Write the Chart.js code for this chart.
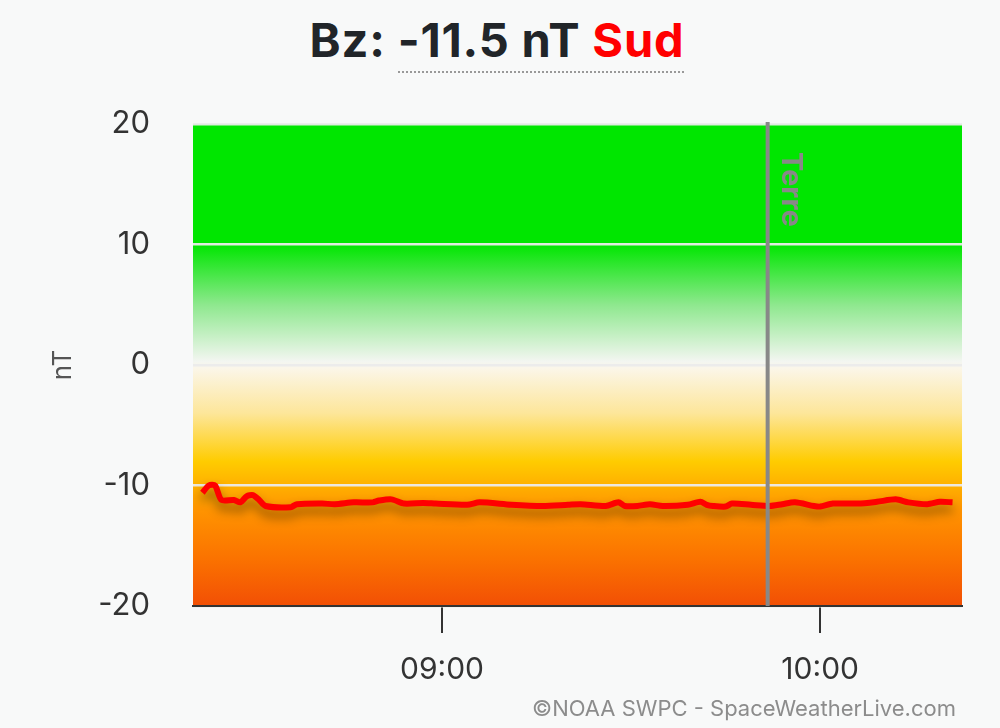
<!DOCTYPE html>
<html>
<head>
<meta charset="utf-8">
<script src="https://cdn.jsdelivr.net/npm/chart.js@4.4.1/dist/chart.umd.min.js"></script>
<style>
  html, body { margin: 0; padding: 0; background: #f8f9f9; }
  body { width: 1000px; height: 728px; position: relative; overflow: hidden; font-family: Inter, 'Noto Sans', sans-serif; }
  #title { position: absolute; top: 11px; left: 0; width: 994px; text-align: center; font-size: 47px; letter-spacing: 0.8px; font-weight: 700; color: #212529; line-height: 58px; }
  #title .val { border-bottom: 2px dotted #999; padding-bottom: 3px; }
  #title .dir { color: #f00; }
  #credit { position: absolute; right: 44px; top: 695px; font-size: 22px; color: #8c8c8c; }
  #wrap { position: absolute; left: 0; top: 0; width: 1000px; height: 728px; }
</style>
</head>
<body>
<div id="title">Bz: <span class="val">-11.5 nT <span class="dir">Sud</span></span></div>
<div id="wrap"><canvas id="bz"></canvas></div>
<div id="credit">©NOAA SWPC - SpaceWeatherLive.com</div>
<script>
// Bz measurements (UTC time, nT)
const times = ['08:22','08:23','08:24','08:25','08:27','08:28','08:29','08:30','08:31','08:32',
  '08:36','08:37','08:41','08:43','08:46','08:49','08:50','08:52','08:54','08:57','08:59',
  '09:04','09:06','09:11','09:16','09:20','09:22','09:26','09:28','09:29','09:31','09:33',
  '09:35','09:39','09:41','09:42','09:43','09:45','09:46','09:49','09:52','09:54','09:56',
  '09:59','10:00','10:02','10:06','10:09','10:12','10:14','10:17','10:19','10:21'];
const bz = [-10.6,-10.0,-10.0,-11.2,-11.2,-11.4,-10.9,-10.8,-11.2,-11.7,
  -11.8,-11.55,-11.5,-11.55,-11.4,-11.4,-11.25,-11.15,-11.5,-11.45,-11.5,
  -11.6,-11.4,-11.6,-11.7,-11.6,-11.55,-11.7,-11.4,-11.7,-11.7,-11.55,
  -11.7,-11.6,-11.35,-11.6,-11.7,-11.75,-11.5,-11.6,-11.7,-11.55,-11.4,
  -11.7,-11.75,-11.5,-11.5,-11.35,-11.15,-11.4,-11.55,-11.35,-11.4];
const xTicks = ['09:00', '10:00'];
const yTicks = [20, 10, 0, -10, -20];
const xRange = ['08:20:30', '10:22:30'];
const earthTime = '09:51:40';
const earthLabel = 'Terre';

function toMin(t) {
  const p = t.split(':').map(Number);
  return p[0] * 60 + p[1] + (p[2] || 0) / 60;
}
function fmt(m) {
  const h = Math.floor(m / 60), mm = Math.round(m % 60);
  return String(h).padStart(2, '0') + ':' + String(mm).padStart(2, '0');
}

const points = times.map((t, i) => ({ x: toMin(t), y: bz[i] }));

// coloured background bands behind the plot
const bgPlugin = {
  id: 'bzBackground',
  beforeDraw(chart) {
    const { ctx, chartArea: a, scales: { y } } = chart;
    const p = v => y.getPixelForValue(v);
    const g = ctx.createLinearGradient(0, p(20), 0, p(-20));
    const f = v => (20 - v) / 40;
    g.addColorStop(f(20), '#00e600');
    g.addColorStop(f(10), '#00e600');
    g.addColorStop(f(5), '#8ee88e');
    g.addColorStop(f(0.3), '#f3f6f1');
    g.addColorStop(f(-0.3), '#fbf6e8');
    g.addColorStop(f(-4), '#fde69a');
    g.addColorStop(f(-8), '#ffcc00');
    g.addColorStop(f(-10), '#ffb000');
    g.addColorStop(f(-12), '#ff9400');
    g.addColorStop(f(-16), '#fb7300');
    g.addColorStop(f(-20), '#f24f05');
    ctx.save();
    ctx.fillStyle = g;
    ctx.fillRect(a.left, a.top, a.right - a.left, a.bottom - a.top);
    ctx.restore();
  }
};

// shadow under the Bz line
const shadowPlugin = {
  id: 'lineShadow',
  beforeDatasetDraw(chart) {
    const ctx = chart.ctx;
    ctx.save();
    ctx.shadowColor = 'rgba(0,0,0,0.45)';
    ctx.shadowBlur = 11;
    ctx.shadowOffsetY = 7;
  },
  afterDatasetDraw(chart) { chart.ctx.restore(); }
};

// vertical "Terre" marker
const earthPlugin = {
  id: 'earthLine',
  afterDatasetsDraw(chart) {
    const { ctx, chartArea: a, scales: { x } } = chart;
    const px = x.getPixelForValue(toMin(earthTime));
    ctx.save();
    ctx.strokeStyle = '#888';
    ctx.lineWidth = 4;
    ctx.beginPath();
    ctx.moveTo(px, a.top - 2);
    ctx.lineTo(px, a.bottom);
    ctx.stroke();
    ctx.translate(px + 23, a.top + 28);
    ctx.rotate(Math.PI / 2);
    ctx.fillStyle = '#888';
    ctx.font = 'bold 29px Inter, "Noto Sans", sans-serif';
    ctx.textAlign = 'left';
    ctx.textBaseline = 'middle';
    ctx.fillText(earthLabel, 0, 0);
    ctx.restore();
  }
};

new Chart(document.getElementById('bz').getContext('2d'), {
  type: 'line',
  data: {
    datasets: [{
      label: 'Bz',
      data: points,
      borderColor: '#ff0000',
      borderWidth: 6,
      tension: 0.25,
      pointRadius: 0,
      fill: false
    }]
  },
  options: {
    responsive: true, maintainAspectRatio: false, animation: false,
    layout: { padding: { top: 124, right: 38, left: 0, bottom: 0 } },
    plugins: { legend: { display: false }, tooltip: { enabled: false } },
    scales: {
      x: {
        type: 'linear',
        min: toMin(xRange[0]), max: toMin(xRange[1]),
        afterBuildTicks: s => { s.ticks = xTicks.map(t => ({ value: toMin(t) })); },
        afterFit: s => { s.height = 122; },
        border: { display: true, color: '#333', width: 2 },
        grid: { drawOnChartArea: false, drawTicks: true, tickLength: 27, color: '#333', lineWidth: 2 },
        ticks: { callback: v => fmt(v), color: '#333', padding: 19, font: { family: 'Inter', size: 30 }, maxRotation: 0 }
      },
      y: {
        min: -20, max: 20,
        afterBuildTicks: s => { s.ticks = yTicks.map(v => ({ value: v })); },
        afterFit: s => { s.width = 193; },
        border: { display: false },
        grid: { color: 'rgba(235,235,235,0.95)', lineWidth: 2.5, drawTicks: false },
        ticks: { color: '#333', padding: 43, font: { family: 'Inter', size: 31 } },
        title: { display: true, text: 'nT', color: '#555', font: { family: 'Inter', size: 26 }, padding: { top: 48, bottom: 0 } }
      }
    }
  },
  plugins: [bgPlugin, shadowPlugin, earthPlugin]
});
</script>
</body>
</html>
